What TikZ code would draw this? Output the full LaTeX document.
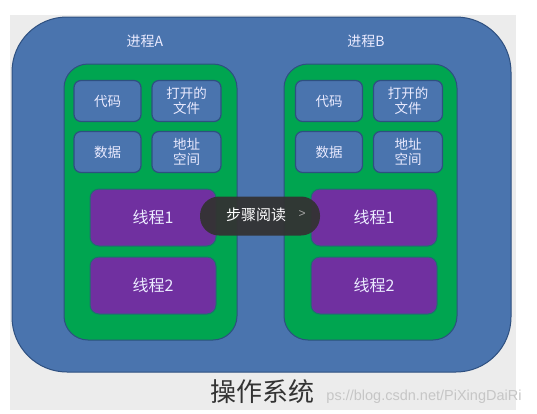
\documentclass[tikz,border=0pt]{standalone}
\usepackage{fontspec}
\newfontfamily\cjk{Noto Sans CJK SC}
\setmainfont{Liberation Sans}
\definecolor{osblue}{HTML}{4A74AE}
\definecolor{edgeblue}{HTML}{2E5080}
\definecolor{pgreen}{HTML}{00A550}
\definecolor{tpurple}{HTML}{7030A0}
\definecolor{bggray}{HTML}{ECECEC}
\definecolor{pill}{HTML}{333333}
\begin{document}
\begin{tikzpicture}[x=1pt,y=-1pt,
  osbox/.style={fill=osblue,draw=edgeblue,line width=1pt,rounded corners=55pt},
  procbox/.style={fill=pgreen,draw=edgeblue,line width=1pt,rounded corners=24pt},
  resbox/.style={fill=osblue,draw=edgeblue,line width=1.2pt,rounded corners=7pt,text=white!92!blue,font=\cjk\fontsize{13.5}{15}\selectfont,align=center,inner sep=0pt},
  thbox/.style={fill=tpurple,draw=edgeblue!60!pgreen,line width=1pt,rounded corners=9pt,text=white!92!blue,font=\cjk\fontsize{16}{18}\selectfont,inner sep=0pt},
  title/.style={text=white!92!blue,font=\cjk\fontsize{14}{16}\selectfont}]
\useasboundingbox (0,0) rectangle (537,413);
\fill[bggray] (10,15) rectangle (516,410);
\draw[osbox] (12,17) rectangle (511,372);
\node[title] (ta) at (145,41) {进程A};
\node[title] (tb) at (366,41) {进程B};
% process A
\draw[procbox] (64,64) rectangle (237,340);
\node[resbox,minimum width=67pt,minimum height=41pt] (ca) at (107.5,101) {代码};
\node[resbox,minimum width=69pt,minimum height=41pt] (fa) at (186.5,101) {打开的\\文件};
\node[resbox,minimum width=67pt,minimum height=41pt] (da) at (107.5,152) {数据};
\node[resbox,minimum width=69pt,minimum height=41pt] (aa) at (186.5,152) {地址\\空间};
\node[thbox,minimum width=126pt,minimum height=57pt] (t1a) at (153,217.5) {线程1};
\node[thbox,minimum width=126pt,minimum height=57pt] (t2a) at (153,285.5) {线程2};
% process B
\draw[procbox] (284,64) rectangle (457,340);
\node[resbox,minimum width=67pt,minimum height=41pt] (cb) at (329,101) {代码};
\node[resbox,minimum width=69pt,minimum height=41pt] (fb) at (408,101) {打开的\\文件};
\node[resbox,minimum width=67pt,minimum height=41pt] (db) at (329,152) {数据};
\node[resbox,minimum width=69pt,minimum height=41pt] (ab) at (408,152) {地址\\空间};
\node[thbox,minimum width=126pt,minimum height=57pt] (t1b) at (374,217.5) {线程1};
\node[thbox,minimum width=126pt,minimum height=57pt] (t2b) at (374,285.5) {线程2};
% overlay pill
\node[fill=pill,fill opacity=0.95,text opacity=1,text=white,rounded corners=19pt,minimum width=120pt,minimum height=39pt,inner sep=0pt] (pill) at (260,216) {};
\node[text=white,font=\cjk\fontsize{15}{17}\selectfont] (pt) at (256,215) {步骤阅读};
\node[text=gray!70,font=\fontsize{12}{14}\selectfont] (arr) at (302,214) {>};
% bottom
\node[font=\fontsize{14.5}{16}\selectfont,text=gray!45] (wm) at (424,397) {ps://blog.csdn.net/PiXingDaiRi};
\node[font=\cjk\fontsize{26}{28}\selectfont,text=black!80] (os) at (262,392) {操作系统};
\end{tikzpicture}
\end{document}
